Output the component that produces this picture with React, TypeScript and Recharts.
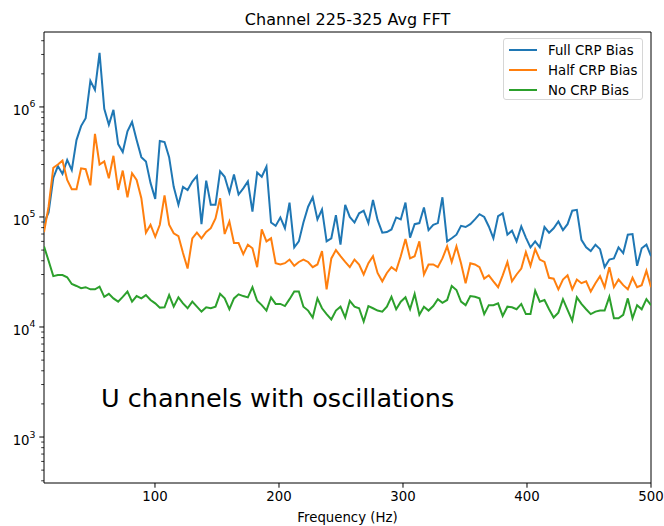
import { Legend, Line, LineChart, ReferenceArea, XAxis, YAxis, Label } from "recharts";

const FONT = "'DejaVu Sans', Verdana, sans-serif";

const frequencies = [
  10.5, 14.2, 18.0, 21.7, 25.4, 29.2, 32.9, 36.7, 40.4, 44.1, 47.9, 51.6, 55.3, 59.1, 62.8, 66.5, 70.3, 74.0, 77.8, 81.5,
  85.2, 89.0, 92.7, 96.4, 100.2, 103.9, 107.7, 111.4, 115.1, 118.9, 122.6, 126.3, 130.1, 133.8, 137.5, 141.3, 145.0, 148.8,
  152.5, 156.2, 160.0, 163.7, 167.4, 171.2, 174.9, 178.6, 182.4, 186.1, 189.9, 193.6, 197.3, 201.1, 204.8, 208.5, 212.3,
  216.0, 219.7, 223.5, 227.2, 231.0, 234.7, 238.4, 242.2, 245.9, 249.6, 253.4, 257.1, 260.9, 264.6, 268.3, 272.1, 275.8,
  279.5, 283.3, 287.0, 290.7, 294.5, 298.2, 302.0, 305.7, 309.4, 313.2, 316.9, 320.6, 324.4, 328.1, 331.8, 335.6, 339.3,
  343.1, 346.8, 350.5, 354.3, 358.0, 361.7, 365.5, 369.2, 372.9, 376.7, 380.4, 384.2, 387.9, 391.6, 395.4, 399.1, 402.8,
  406.6, 410.3, 414.1, 417.8, 421.5, 425.3, 429.0, 432.7, 436.5, 440.2, 443.9, 447.7, 451.4, 455.2, 458.9, 462.6, 466.4,
  470.1, 473.8, 477.6, 481.3, 485.1, 488.8, 492.5, 496.3, 500.0
];

const fullBias = [
  8.8e4, 1.1e5, 2.26e5, 2.9e5, 2.46e5, 3.3e5, 2.67e5, 5.0e5, 6.7e5, 7.9e5, 1.73e6, 1.43e6, 3.1e6, 9.6e5, 6.9e5, 9.4e5,
  4.6e5, 3.9e5, 6.0e5, 7.3e5, 5.0e5, 3.5e5, 3.2e5,
  2.04e5, 1.46e5, 4.9e5, 4.8e5, 3.5e5, 1.88e5, 1.29e5, 1.88e5, 1.76e5, 2.1e5, 2.36e5, 8.6e4, 2.14e5, 1.29e5, 1.29e5,
  2.6e5, 2.32e5, 1.66e5, 2.43e5, 1.6e5, 1.82e5, 2.1e5,
  1.12e5, 2.53e5, 2.32e5, 2.87e5, 8.9e4, 8.3e4, 9.9e4, 7.9e4, 1.35e5, 5.3e4, 6.0e4, 8.9e4, 1.24e5, 1.51e5, 9.5e4, 1.17e5,
  6.0e4, 6.4e4, 1.04e5, 5.6e4, 1.29e5, 1.0e5,
  8.9e4, 1.08e5, 1.14e5, 8.8e4, 1.43e5, 9.4e4, 7.2e4, 7.3e4, 7.7e4, 9.9e4, 9.5e4, 1.35e5, 6.5e4, 8.6e4, 8.8e4, 1.22e5,
  7.6e4, 8.5e4, 8.8e4, 1.51e5, 6.0e4, 6.4e4,
  6.9e4, 8.3e4, 8.1e4, 8.6e4, 9.5e4, 1.06e5, 1.0e5, 8.2e4, 6.4e4, 1.02e5, 1.08e5, 6.9e4, 7.5e4, 6.0e4, 8.2e4, 6.5e4,
  5.3e4, 6.0e4, 5.3e4, 8.1e4, 7.2e4,
  7.9e4, 9.1e4, 7.6e4, 8.6e4, 1.14e5, 1.16e5, 6.2e4, 5.3e4, 4.9e4, 5.6e4, 5.1e4, 3.5e4, 4.1e4, 4.2e4, 5.3e4, 4.7e4,
  6.9e4, 7.0e4, 3.6e4, 5.2e4, 5.6e4, 4.4e4
];

const halfBias = [
  7.3e4, 1.24e5, 2.8e5, 3.0e5, 3.25e5, 2.17e5, 1.79e5, 1.79e5, 2.77e5, 2.72e5, 1.94e5, 5.7e5, 3.0e5, 3.2e5, 2.25e5,
  3.6e5, 1.76e5, 2.64e5, 1.51e5, 2.5e5, 2.17e5, 1.48e5, 7.2e4,
  8.5e4, 6.6e4, 8.5e4, 1.57e5, 8.5e4, 7.1e4, 6.7e4, 4.7e4, 3.4e4, 6.4e4, 7.2e4, 6.4e4, 7.3e4, 7.9e4, 9.7e4, 1.48e5,
  7.0e4, 9.1e4, 5.8e4, 5.8e4, 4.6e4, 5.6e4,
  5.2e4, 3.5e4, 7.7e4, 6.0e4, 6.4e4, 3.8e4, 3.7e4, 3.8e4, 4.1e4, 3.6e4, 3.9e4, 4.1e4, 3.9e4, 3.5e4, 3.7e4, 4.9e4,
  2.2e4, 4.2e4, 5.0e4, 4.4e4, 3.9e4, 3.5e4,
  4.1e4, 3.7e4, 3.0e4, 3.8e4, 4.4e4, 3.1e4, 2.6e4, 3.1e4, 3.5e4, 3.25e4, 4.4e4, 6.3e4, 4.2e4, 4.4e4, 6.0e4, 3.0e4,
  3.7e4, 3.7e4, 3.5e4, 4.2e4, 5.4e4, 3.9e4,
  5.4e4, 3.8e4, 2.5e4, 3.8e4, 3.7e4, 3.5e4, 2.75e4, 2.95e4, 2.6e4, 2.3e4, 2.95e4, 3.9e4, 2.6e4, 3.0e4, 3.4e4, 4.8e4,
  3.6e4, 5.1e4, 4.1e4, 3.9e4, 2.8e4,
  2.75e4, 2.2e4, 2.7e4, 2.95e4, 2.2e4, 2.7e4, 2.5e4, 2.6e4, 2.1e4, 2.5e4, 2.9e4, 2.3e4, 3.5e4, 2.3e4, 2.7e4, 2.4e4,
  2.2e4, 2.8e4, 2.3e4, 2.4e4, 3.25e4, 2.3e4
];

const noBias = [
  5.4e4, 4.0e4, 2.9e4, 2.97e4, 2.97e4, 2.83e4, 2.46e4, 2.36e4, 2.25e4, 2.3e4, 2.2e4, 2.2e4, 2.33e4, 1.88e4, 2.0e4,
  1.82e4, 1.7e4, 1.88e4, 2.1e4, 1.7e4, 1.91e4, 1.82e4,
  1.95e4, 1.76e4, 1.64e4, 1.5e4, 1.51e4, 1.95e4, 1.53e4, 1.86e4, 1.64e4, 1.48e4, 1.7e4, 1.53e4, 1.38e4, 1.51e4, 1.48e4,
  1.53e4, 2.0e4, 1.82e4, 1.45e4, 1.82e4, 1.98e4, 1.91e4, 1.86e4,
  2.3e4, 1.73e4, 1.58e4, 1.41e4, 1.86e4, 1.62e4, 1.62e4, 1.55e4, 1.79e4, 2.1e4, 2.1e4, 1.53e4, 1.41e4, 1.22e4, 1.82e4,
  1.48e4, 1.31e4, 1.17e4, 1.41e4, 1.53e4, 1.22e4, 1.73e4,
  1.53e4, 1.48e4, 1.12e4, 1.55e4, 1.48e4, 1.41e4, 1.38e4, 1.53e4, 1.88e4, 1.45e4, 1.7e4, 1.86e4, 1.45e4, 2.0e4, 1.29e4,
  1.53e4, 1.41e4, 1.55e4, 1.79e4, 1.66e4, 1.76e4, 2.36e4,
  2.17e4, 1.7e4, 1.58e4, 1.91e4, 1.88e4, 1.82e4, 1.31e4, 1.58e4, 1.58e4, 1.64e4, 1.26e4, 1.53e4, 1.51e4, 1.45e4, 1.62e4,
  1.31e4, 1.31e4, 2.14e4, 1.7e4, 1.76e4, 1.45e4,
  1.22e4, 1.35e4, 1.79e4, 1.43e4, 1.14e4, 1.86e4, 1.62e4, 1.45e4, 1.31e4, 1.38e4, 1.41e4, 1.41e4, 1.88e4, 1.2e4, 1.2e4,
  1.29e4, 1.82e4, 1.2e4, 1.58e4, 1.45e4, 1.79e4, 1.58e4
];

const xTicks = [100, 200, 300, 400, 500];
const yTicks = [
  400, 500, 600, 700, 800, 900,
  1000, 2000, 3000, 4000, 5000, 6000, 7000, 8000, 9000,
  1e4, 2e4, 3e4, 4e4, 5e4, 6e4, 7e4, 8e4, 9e4,
  1e5, 2e5, 3e5, 4e5, 5e5, 6e5, 7e5, 8e5, 9e5,
  1e6, 2e6, 3e6, 4e6
];
const xDomain = [10.5, 500];
const yDomain = [382, 4.8e6];

const series = [
  { key: "full", name: "Full CRP Bias", color: "#1f77b4" },
  { key: "half", name: "Half CRP Bias", color: "#ff7f0e" },
  { key: "none", name: "No CRP Bias", color: "#2ca02c" }
];

const rows = frequencies.map((f, i) => ({ f, full: fullBias[i], half: halfBias[i], none: noBias[i] }));

const PLOT_LEFT = 44;

const YTick = ({ y, payload }: any) => {
  const v = payload.value;
  const exp = Math.round(Math.log10(v));
  const isMajor = Math.abs(v - Math.pow(10, exp)) < v * 1e-6;
  if (!isMajor) {
    return <line x1={PLOT_LEFT - 2.8} x2={PLOT_LEFT} y1={y} y2={y} stroke="#000" strokeWidth={0.8} />;
  }
  return (
    <g>
      <line x1={PLOT_LEFT - 4.7} x2={PLOT_LEFT} y1={y} y2={y} stroke="#000" strokeWidth={1} />
      <text x={PLOT_LEFT - 8.5} y={y + 8} textAnchor="end" fontSize={13.3} fontFamily={FONT} fill="#000">
        10
        <tspan dy={-7.5} fontSize={9.3}>
          {exp}
        </tspan>
      </text>
    </g>
  );
};

const LegendBox = () => (
  <div
    style={{
      width: 140,
      height: 62,
      border: "1px solid #d6d6d6",
      borderRadius: 3,
      background: "rgba(255,255,255,0.8)",
      boxSizing: "border-box"
    }}
  >
    <svg width={140} height={62}>
      {series.map((s, i) => (
        <g key={s.key}>
          <line x1={5} x2={33} y1={11 + i * 20} y2={11 + i * 20} stroke={s.color} strokeWidth={2} />
          <text x={44} y={15.8 + i * 20} fontSize={13.3} fontFamily={FONT} fill="#000">
            {s.name}
          </text>
        </g>
      ))}
    </svg>
  </div>
);

export default function App() {
  return (
    <div style={{ position: "absolute", left: 0, top: 0, width: 664, height: 526, background: "#fff" }}>
      <LineChart width={664} height={526} data={rows} margin={{ top: 32, right: 13, bottom: 0, left: 0 }}>
        <XAxis
          dataKey="f"
          type="number"
          domain={xDomain}
          ticks={xTicks}
          interval={0}
          height={43}
          axisLine={false}
          tickSize={4.7}
          tickMargin={3.5}
          tickLine={{ stroke: "#000", strokeWidth: 1 }}
          tick={{ fontSize: 13.3, fill: "#000", fontFamily: FONT }}
          allowDataOverflow
        >
          <Label
            value="Frequency (Hz)"
            position="insideBottom"
            offset={4}
            style={{ fontSize: 13.3, fill: "#000", fontFamily: FONT }}
          />
        </XAxis>
        <YAxis
          type="number"
          scale="log"
          domain={yDomain}
          ticks={yTicks}
          interval={0}
          width={44}
          axisLine={false}
          tickLine={false}
          tick={<YTick />}
          allowDataOverflow
        />
        <ReferenceArea
          x1={xDomain[0]}
          x2={xDomain[1]}
          y1={yDomain[0]}
          y2={yDomain[1]}
          fill="none"
          stroke="#000"
          strokeWidth={1}
          ifOverflow="visible"
        />
        {series.map((s) => (
          <Line
            key={s.key}
            dataKey={s.key}
            name={s.name}
            type="linear"
            stroke={s.color}
            strokeWidth={2}
            dot={false}
            isAnimationActive={false}
          />
        ))}
        <Legend
          layout="vertical"
          align="center"
          verticalAlign="middle"
          content={() => <LegendBox />}
          wrapperStyle={{ left: 503, top: 38, width: 140, height: 62 }}
        />
      </LineChart>
      <svg
        width={664}
        height={526}
        style={{ position: "absolute", left: 0, top: 0, pointerEvents: "none" }}
      >
        <text x={347.5} y={25} textAnchor="middle" fontSize={16} fontFamily={FONT} fill="#000">
          Channel 225-325 Avg FFT
        </text>
        <text x={101} y={407} fontSize={25.5} fontFamily={FONT} fill="#000">
          U channels with oscillations
        </text>
      </svg>
    </div>
  );
}
